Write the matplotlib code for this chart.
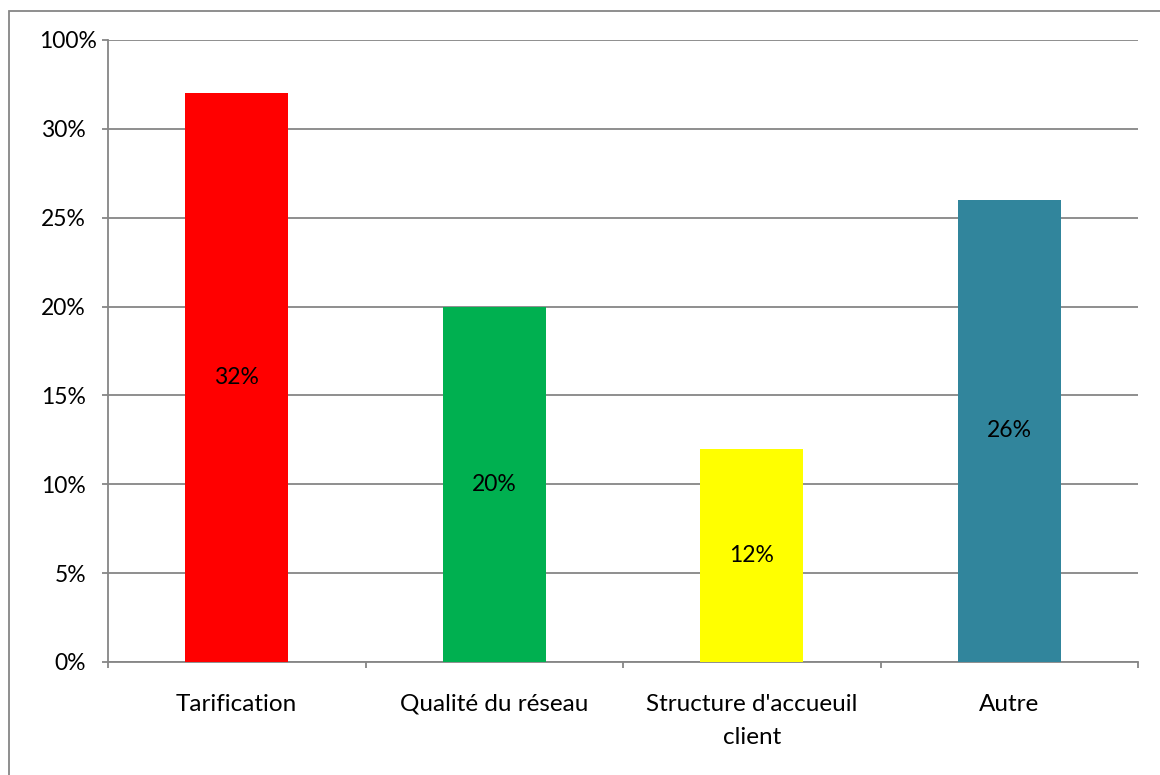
import numpy as np
import matplotlib.pyplot as plt
import matplotlib.transforms as mtransforms
from matplotlib.patches import Rectangle

categories = ["Tarification", "Qualité du réseau", "Structure d'accueuil\nclient", "Autre"]
values = [32, 20, 12, 26]
labels = ["32%", "20%", "12%", "26%"]
colors = ["#FF0000", "#00B050", "#FFFF00", "#31859C"]
ytick_vals = [0, 5, 10, 15, 20, 25, 30, 35]
ytick_labels = ["0%", "5%", "10%", "15%", "20%", "25%", "30%", "100%"]

plt.rcParams['font.family'] = ['Lato', 'DejaVu Sans']
grey = "#868686"
fs = 16.5

fig = plt.figure(figsize=(11.6, 7.75), dpi=100)
ax = fig.add_axes([108/1160, 113/775, 1030/1160, 622/775])

x = np.arange(len(categories))
ax.bar(x, values, width=0.4, color=colors, zorder=3)
for xi, v, lab in zip(x, values, labels):
    ax.text(xi, v / 2, lab, ha="center", va="center", fontsize=fs, zorder=4)

ax.set_xlim(-0.5, len(categories) - 0.5)
ax.set_ylim(0, 35)
ax.set_yticks(ytick_vals)
ax.set_yticklabels(ytick_labels, fontsize=fs)
ax.set_xticks(x)
ax.set_xticklabels(categories, fontsize=17.5, va="top", linespacing=1.7)
ax.tick_params(axis="x", length=0, pad=23)
ax.tick_params(axis="y", length=4.3, color=grey, width=1.3, pad=11.5)
ax.set_xticks(np.arange(-0.5, len(categories), 1), minor=True)
ax.tick_params(axis="x", which="minor", length=4.3, color=grey, width=1.3, direction="out")
ax.yaxis.grid(True, color=grey, linewidth=1.3, zorder=0)
ax.set_axisbelow(True)
for s in ["top", "right"]:
    ax.spines[s].set_visible(False)
for s in ["left", "bottom"]:
    ax.spines[s].set_color(grey)
    ax.spines[s].set_linewidth(1.3)

# the top label sits further right in the original
top_lab = ax.get_yticklabels()[-1]
top_lab.set_transform(top_lab.get_transform() + mtransforms.ScaledTranslation(0.11, 0, fig.dpi_scale_trans))

fig.patches.append(Rectangle((9/1160, -0.1), 1.2, (775-11)/775 + 0.1, transform=fig.transFigure,
                             fill=False, edgecolor=grey, linewidth=1.3))

fig.savefig("out.png", dpi=100)
